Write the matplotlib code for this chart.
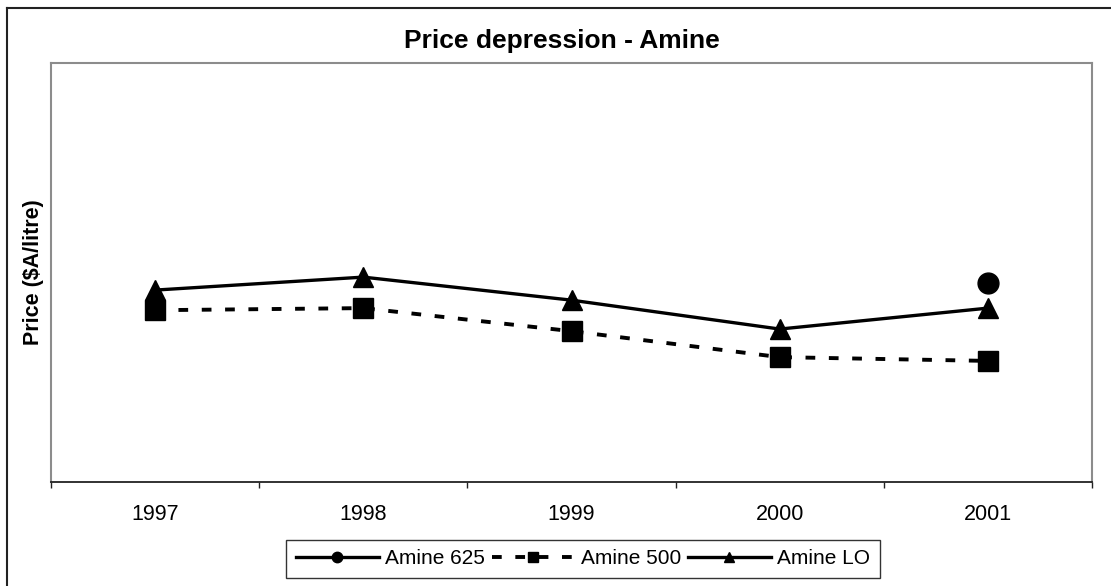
import matplotlib
matplotlib.use("Agg")
import matplotlib.pyplot as plt
from matplotlib.lines import Line2D

plt.rcParams['font.family'] = ['Liberation Sans', 'DejaVu Sans']

years = ["1997", "1998", "1999", "2000", "2001"]
amine_625 = [None, None, None, None, 4.75]
amine_500 = [4.10, 4.15, 3.60, 2.98, 2.89]
amine_lo = [4.58, 4.89, 4.34, 3.65, 4.15]

W, H = 1111, 586
fig = plt.figure(figsize=(W / 100, H / 100), dpi=100)
fig.patch.set_facecolor('white')

# plot area in pixel coordinates
left, right, top, bottom = 51, 1092, 63, 482
ax = fig.add_axes([left / W, (H - bottom) / H, (right - left) / W, (bottom - top) / H])

x = list(range(len(years)))
x625 = [i for i, v in zip(x, amine_625) if v is not None]
y625 = [v for v in amine_625 if v is not None]

ax.plot(x625, y625, color='black', lw=2.4, marker='o', ms=15, label='Amine 625')
ax.plot(x, amine_500, color='black', lw=2.8, ls=(0, (2.5, 3.5)), marker='s', ms=15,
        label='Amine 500')
ax.plot(x, amine_lo, color='black', lw=2.4, marker='^', ms=15, label='Amine LO')

ax.set_xlim(-0.5, len(years) - 0.5)
ax.set_ylim(0, 10)
ax.set_yticks([])

ax.set_xticks(x)
ax.set_xticklabels(years, fontsize=15.5)
ax.tick_params(axis='x', which='major', length=0, pad=16)
ax.set_xticks([i - 0.5 for i in range(len(years) + 1)], minor=True)
ax.tick_params(axis='x', which='minor', direction='out', length=4.5, width=1.0, color='#222222')

for side in ('left', 'top', 'right'):
    ax.spines[side].set_color('#8c8c8c')
    ax.spines[side].set_linewidth(1.5)
ax.spines['bottom'].set_color('#222222')
ax.spines['bottom'].set_linewidth(1.3)

fig.text(562 / W, 1 - 41 / H, 'Price depression - Amine', ha='center', va='center',
         fontsize=19, fontweight='bold')
fig.text(34 / W, 1 - 272 / H, 'Price ($A/litre)', ha='center', va='center',
         rotation=90, fontsize=15.5, fontweight='bold')

leg = ax.legend(loc='center', bbox_to_anchor=(583 / W, (H - 559) / H),
                bbox_transform=fig.transFigure, ncol=3, fontsize=15,
                frameon=True, fancybox=False, edgecolor='black', handlelength=4.0,
                handletextpad=0.3, columnspacing=0.3, markerscale=0.5,
                borderpad=0.45, borderaxespad=0)
leg.get_frame().set_linewidth(1.0)

# outer chart border (left and top edges)
fig.add_artist(Line2D([7 / W, 7 / W], [0, 1 - 8 / H], color='#222222', lw=1.5,
                      transform=fig.transFigure))
fig.add_artist(Line2D([7 / W, 1], [1 - 8 / H, 1 - 8 / H], color='#222222', lw=1.5,
                      transform=fig.transFigure))

fig.savefig('out.png', dpi=100, facecolor='white')
